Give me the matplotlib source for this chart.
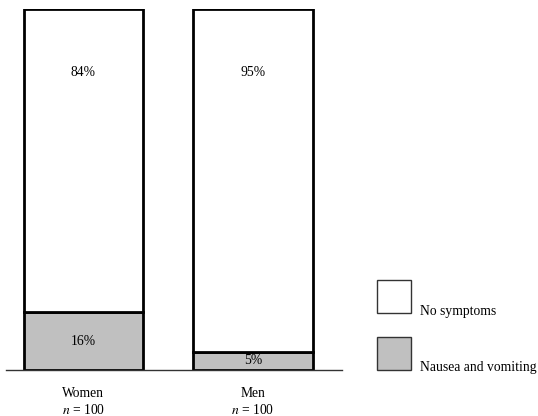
import matplotlib
matplotlib.use("Agg")
import matplotlib.pyplot as plt
from matplotlib.patches import Rectangle

groups = ["Women", "Men"]
sizes = [100, 100]
nausea = [16, 5]
no_symptoms = [84, 95]
series_names = ["No symptoms", "Nausea and vomiting"]
series_colors = ["white", "#c0c0c0"]

plt.rcParams["font.family"] = ["Liberation Serif", "DejaVu Serif"]
plt.rcParams["mathtext.fontset"] = "stix"

W, H = 538, 416
FS = 9.8
fig = plt.figure(figsize=(W / 100, H / 100), dpi=100)

ax = fig.add_axes([6 / W, (H - 370) / H, 336 / W, 361 / H])
ax.set_xlim(-0.457, 1.525)
ax.set_ylim(0, 100)
ax.axis("off")

x = list(range(len(groups)))
bw = 0.702
ax.bar(x, nausea, width=bw, color=series_colors[1], edgecolor="black", linewidth=2, zorder=2)
ax.bar(x, no_symptoms, bottom=nausea, width=bw, color=series_colors[0], edgecolor="black",
       linewidth=2, zorder=2)
ax.axhline(0, color="#333333", linewidth=1, zorder=3, clip_on=False)

for xi, lo, hi in zip(x, nausea, no_symptoms):
    ax.text(xi, lo / 2, f"{lo}%", ha="center", va="center", fontsize=FS)
    ax.text(xi, 82.3, f"{hi}%", ha="center", va="center", fontsize=FS)

for xi, g, n in zip(x, groups, sizes):
    ax.text(xi, -6.4, g, ha="center", va="center", fontsize=FS)
    ax.text(xi, -11.2, f"$n$ = {n}", ha="center", va="center", fontsize=FS)

# legend boxes with labels at their lower right
legend_tops = [280, 337]
label_y = [311, 367]
for top, ly, name, col in zip(legend_tops, label_y, series_names, series_colors):
    fig.patches.append(Rectangle((377 / W, (H - top - 33) / H), 34 / W, 33 / H,
                                 transform=fig.transFigure, facecolor=col,
                                 edgecolor="#333333", linewidth=1))
    fig.text(420 / W, (H - ly) / H, name, ha="left", va="center", fontsize=FS)

fig.savefig("out.png", dpi=100)
